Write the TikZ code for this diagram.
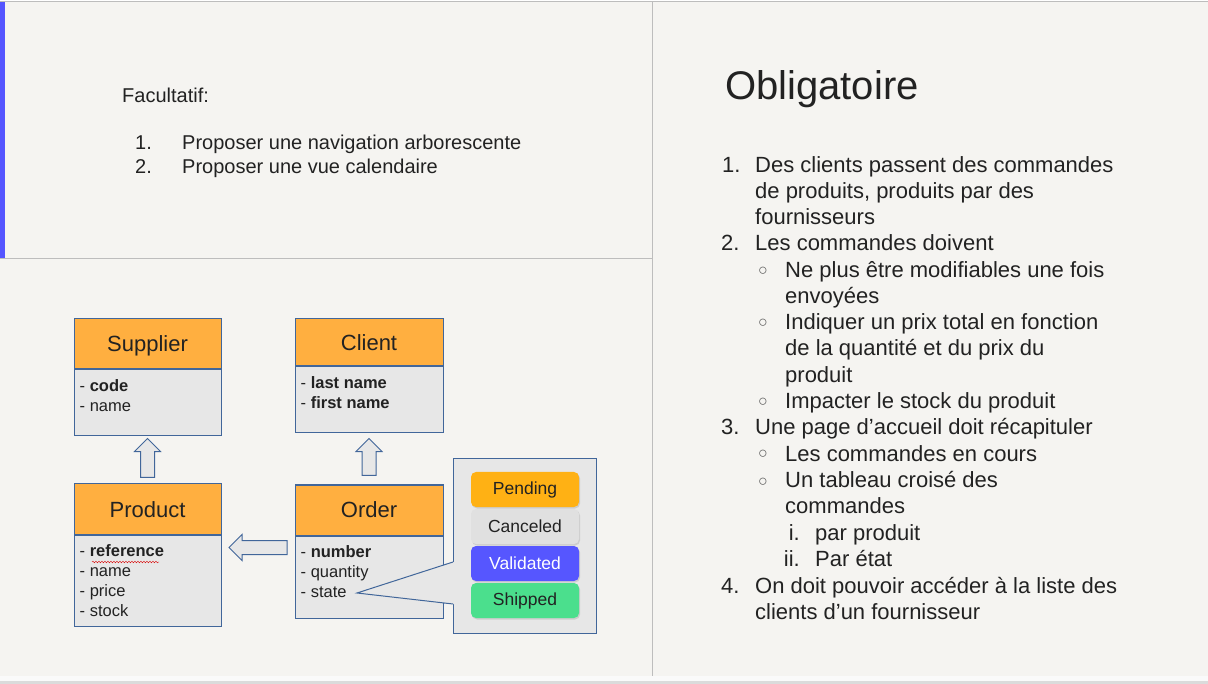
\documentclass[tikz,border=0pt]{standalone}
\usepackage{fontspec}
\setmainfont{Liberation Sans}
\usetikzlibrary{positioning,calc,shapes.arrows,shadows,decorations.pathmorphing}

\definecolor{bgpage}{HTML}{F5F4F1}
\definecolor{rulegray}{HTML}{BDBDBD}
\definecolor{accentblue}{HTML}{5555FF}
\definecolor{umlorange}{HTML}{FFAF40}
\definecolor{umlgray}{HTML}{E7E7E7}
\definecolor{umlborder}{HTML}{41669A}
\definecolor{pendingcol}{HTML}{FFB114}
\definecolor{canceledcol}{HTML}{E0E0E0}
\definecolor{validatedcol}{HTML}{5656FF}
\definecolor{shippedcol}{HTML}{4BDF8D}
\definecolor{inkcol}{HTML}{222222}

\tikzset{
  umlhead/.style={draw=umlborder, fill=umlorange, line width=1pt, minimum width=147pt,
    minimum height=50pt, inner sep=0pt, text height=16pt, text depth=0pt,
    font=\fontsize{22}{26}\selectfont, text=inkcol},
  umlbody/.style={draw=umlborder, fill=umlgray, line width=1pt, minimum width=147pt, inner sep=0pt},
  umlattr/.style={anchor=north west, align=left, inner sep=0pt,
    font=\fontsize{16.5}{20}\selectfont, text=inkcol},
  blockarrow/.style={single arrow, draw=umlborder, fill=umlgray, line width=1pt,
    inner xsep=0pt, inner ysep=6.5pt, single arrow head extend=6pt},
  statepill/.style={rounded corners=5pt, minimum width=108pt, minimum height=35pt, inner sep=0pt,
    font=\fontsize{17.5}{20}\selectfont, text=inkcol,
    drop shadow={opacity=0.25, shadow xshift=1pt, shadow yshift=-1.5pt}},
  leftline/.style={anchor=base west, inner sep=0pt, font=\fontsize{20}{24}\selectfont, text=inkcol},
  rightline/.style={anchor=base west, inner sep=0pt, font=\fontsize{22}{26}\selectfont, text=inkcol},
  romanline/.style={anchor=base east, inner sep=0pt, font=\fontsize{22}{26}\selectfont, text=inkcol},
  circbullet/.style={anchor=base, inner sep=0pt, font=\fontsize{16}{18}\selectfont, text=inkcol!75},
}

\begin{document}
\begin{tikzpicture}[x=1pt,y=-1pt]
  \useasboundingbox (0,0) rectangle (1208,684);
  % page background
  \fill[white] (0,0) rectangle (1208,684);
  \fill[bgpage] (0,2.5) rectangle (1208,676);
  \fill[black!2] (0,676) rectangle (1208,681);
  \fill[black!14] (0,681) rectangle (1208,684);
  \draw[rulegray, line width=1pt] (0,2) -- (1208,2);
  \fill[accentblue] (0,2.5) rectangle (5,258);
  \draw[rulegray, line width=1.5pt] (0,258.5) -- (653,258.5);
  \draw[rulegray, line width=1.5pt] (652.5,2) -- (652.5,676);

  % optional part
  \node[leftline] (facultatif) at (122,103) {Facultatif:};
  \node[leftline] (optnum1) at (135,150) {1.};
  \node[leftline] (opt1) at (182,150) {Proposer une navigation arborescente};
  \node[leftline] (optnum2) at (135,174) {2.};
  \node[leftline] (opt2) at (182,174) {Proposer une vue calendaire};

  % classes
  \node[umlhead] (supplier) at (147.5,344) {Supplier};
  \node[umlbody, below=0pt of supplier, minimum height=66pt] (supplierattr) {};
  \node[umlattr] (supplierlist) at ([xshift=6pt,yshift=-10pt]supplierattr.north west)
    {- \textbf{code}\\- name};

  \node[umlhead, minimum width=148pt, minimum height=47pt] (client) at (369,342.5) {Client};
  \node[umlbody, below=0pt of client, minimum width=148pt, minimum height=66pt] (clientattr) {};
  \node[umlattr] (clientlist) at ([xshift=6pt,yshift=-10pt]clientattr.north west)
    {- \textbf{last name}\\- \textbf{first name}};

  \node[umlhead] (product) at (147.5,509) {Product};
  \node[umlbody, below=0pt of product, minimum height=91pt] (productattr) {};
  \node[umlattr] (productlist) at ([xshift=6pt,yshift=-10pt]productattr.north west)
    {- \textbf{reference}\\- name\\- price\\- stock};
  \draw[red!85!black, decorate, decoration={snake, amplitude=0.8pt, segment length=3pt}]
    (92,562) -- (159,562);

  \node[umlhead, minimum width=148pt] (order) at (369,510) {Order};
  \node[umlbody, below=0pt of order, minimum width=148pt, minimum height=82pt] (orderattr) {};
  \node[umlattr] (orderlist) at ([xshift=6pt,yshift=-10pt]orderattr.north west)
    {- \textbf{number}\\- quantity\\- state};

  % links
  \node[blockarrow, minimum height=39pt, rotate=90] (producttosupplier)
    at ($(supplierattr.south)!0.5!(product.north)+(0,1.5)$) {};
  \node[blockarrow, minimum height=37pt, rotate=90] (ordertoclient)
    at ($(clientattr.south)!0.5!(order.north)+(0,1.5)$) {};
  \node[blockarrow, minimum height=58pt, rotate=180] (ordertoproduct)
    at ($(productattr.north east)!0.5!(orderattr.north west)+(3.5,12.5)$) {};

  % states of an order
  \node[draw=umlborder, fill=umlgray, line width=1pt, minimum width=143pt, minimum height=174pt]
    (statebox) at (524.5,546) {};
  \coordinate (statetip) at (357,593);
  \coordinate (calloutup) at (453,562);
  \coordinate (calloutdown) at (453,604);
  \fill[umlgray] (calloutup) -- (statetip) -- (calloutdown) -- ([xshift=2pt]calloutdown)
    -- ([xshift=2pt]calloutup) -- cycle;
  \draw[umlborder, line width=1pt] (calloutup) -- (statetip) -- (calloutdown);

  \node[statepill, fill=pendingcol] (pending) at (525,489.5) {Pending};
  \node[statepill, fill=canceledcol] (canceled) at (525,526.5) {Canceled};
  \node[statepill, fill=validatedcol, text=white] (validated) at (525,563.5) {Validated};
  \node[statepill, fill=shippedcol] (shipped) at (525,600.5) {Shipped};

  % mandatory part
  \node[anchor=base west, inner sep=0pt, font=\fontsize{40}{44}\selectfont, text=inkcol]
    (obligatoire) at (725,100) {Obligatoire};
  \node[rightline] (reqnum1) at (722,173) {1.};
  \node[rightline] (req1a) at (755,173) {Des clients passent des commandes};
  \node[rightline] (req1b) at (755,199) {de produits, produits par des};
  \node[rightline] (req1c) at (755,225) {fournisseurs};
  \node[rightline] (reqnum2) at (721,251) {2.};
  \node[rightline] (req2) at (755,251) {Les commandes doivent};
  \node[circbullet] (bul21) at (763,276) {○};
  \node[rightline] (req21a) at (785,278) {Ne plus être modifiables une fois};
  \node[rightline] (req21b) at (785,304) {envoyées};
  \node[circbullet] (bul22) at (763,328) {○};
  \node[rightline] (req22a) at (785,330) {Indiquer un prix total en fonction};
  \node[rightline] (req22b) at (785,356) {de la quantité et du prix du};
  \node[rightline] (req22c) at (785,383) {produit};
  \node[circbullet] (bul23) at (763,407) {○};
  \node[rightline] (req23) at (785,409) {Impacter le stock du produit};
  \node[rightline] (reqnum3) at (721,435) {3.};
  \node[rightline] (req3) at (755,435) {Une page d’accueil doit récapituler};
  \node[circbullet] (bul31) at (763,459) {○};
  \node[rightline] (req31) at (785,461) {Les commandes en cours};
  \node[circbullet] (bul32) at (763,486) {○};
  \node[rightline] (req32a) at (785,488) {Un tableau croisé des};
  \node[rightline] (req32b) at (785,514) {commandes};
  \node[romanline] (rom1) at (800,540) {i.};
  \node[rightline] (req321) at (815,540) {par produit};
  \node[romanline] (rom2) at (800,566) {ii.};
  \node[rightline] (req322) at (815,566) {Par état};
  \node[rightline] (reqnum4) at (721,593) {4.};
  \node[rightline] (req4a) at (755,593) {On doit pouvoir accéder à la liste des};
  \node[rightline] (req4b) at (755,619) {clients d’un fournisseur};
\end{tikzpicture}
\end{document}
